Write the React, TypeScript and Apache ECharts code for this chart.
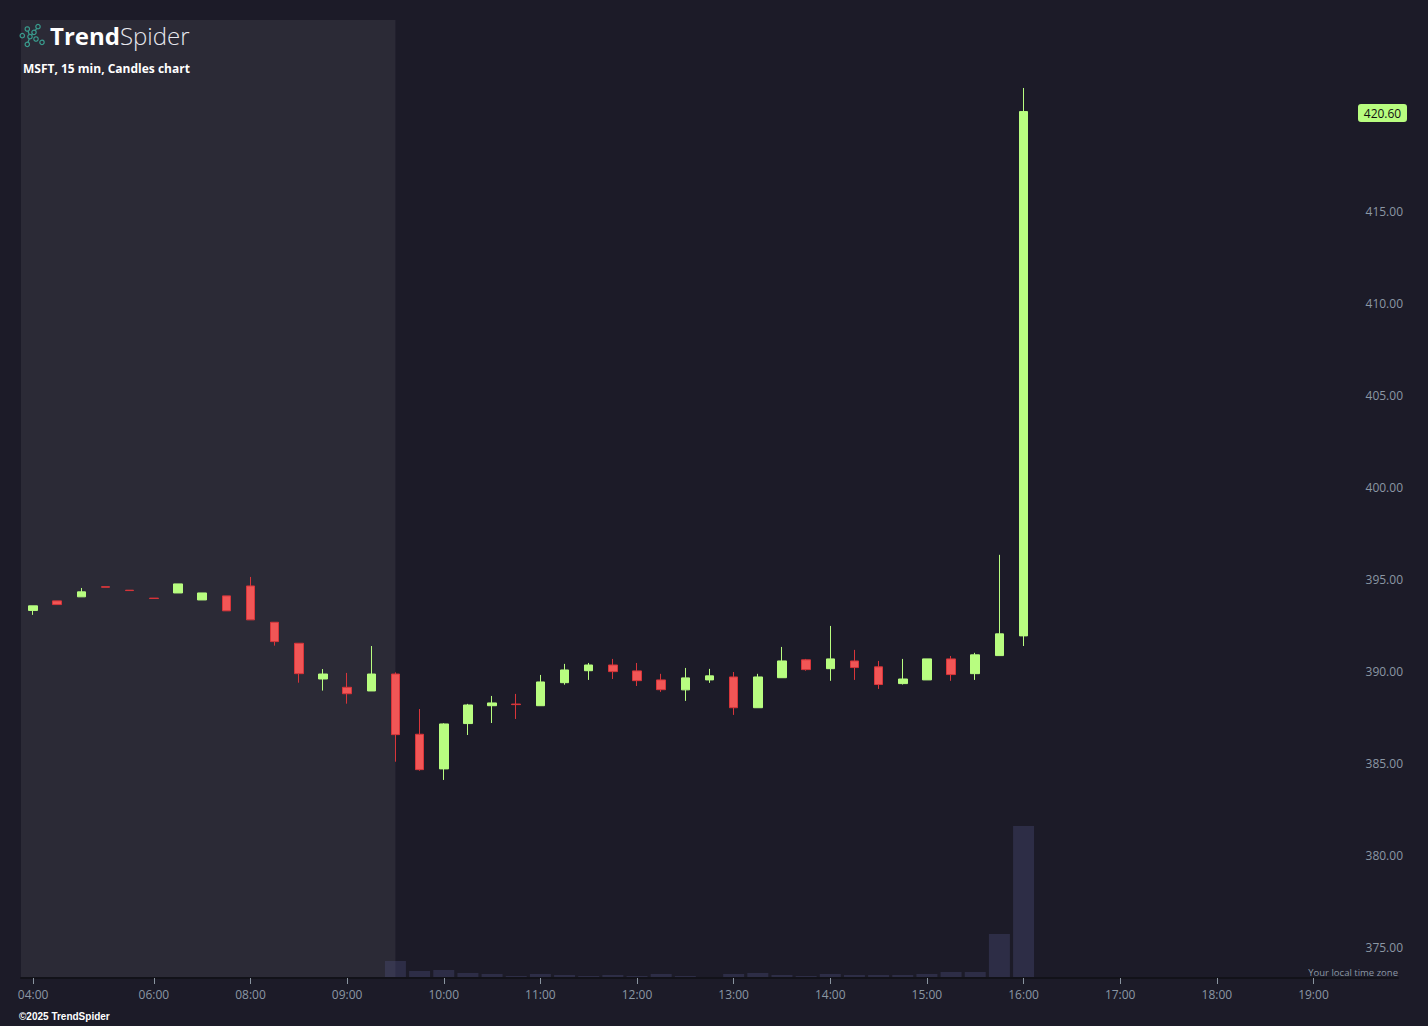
import React, { useEffect, useRef } from "react";
import * as echarts from "echarts";

const times = [
  "04:00", "04:30", "05:00", "05:15", "05:45", "06:00", "06:45", "07:15", "07:45",
  "08:00", "08:15", "08:30", "08:45", "09:00", "09:15", "09:30", "09:45",
  "10:00", "10:15", "10:30", "10:45", "11:00", "11:15", "11:30", "11:45",
  "12:00", "12:15", "12:30", "12:45", "13:00", "13:15", "13:30", "13:45",
  "14:00", "14:15", "14:30", "14:45", "15:00", "15:15", "15:30", "15:45",
  "16:00", "16:15", "16:30", "16:45", "17:00", "17:15", "17:30", "17:45",
  "18:00", "18:15", "18:30", "18:45", "19:00", "19:15", "19:30", "19:45",
];
const shownTimes = ["04:00", "06:00", "08:00", "09:00", "10:00", "11:00", "12:00", "13:00", "14:00", "15:00", "16:00", "17:00", "18:00", "19:00"];

const opens = [393.32, 393.84, 394.06, 394.61, 394.42, 393.99, 394.27, 393.89, 394.11, 394.65, 392.68, 391.54, 389.6, 389.15, 388.95, 389.87, 386.6, 384.72, 387.18, 388.15, 388.24, 388.15, 389.4, 390.05, 390.36, 390.04, 389.55, 389.01, 389.55, 389.71, 388.04, 389.67, 390.64, 390.16, 390.58, 390.26, 389.35, 389.55, 390.69, 389.89, 390.87, 391.94];
const closes = [393.57, 393.64, 394.33, 394.58, 394.4, 393.97, 394.76, 394.27, 393.3, 392.81, 391.63, 389.89, 389.87, 388.8, 389.87, 386.58, 384.68, 387.16, 388.19, 388.3, 388.21, 389.44, 390.09, 390.36, 390.0, 389.51, 389.02, 389.66, 389.77, 388.04, 389.71, 390.58, 390.11, 390.69, 390.22, 389.3, 389.6, 390.69, 389.84, 390.91, 392.05, 420.4];
const lows = [393.08, 393.64, 394.06, 394.58, 394.4, 393.97, 394.27, 393.89, 393.3, 392.81, 391.41, 389.4, 388.97, 388.26, 388.95, 385.11, 384.62, 384.12, 386.56, 387.21, 387.43, 388.15, 389.29, 389.55, 389.6, 389.22, 388.9, 388.41, 389.39, 387.65, 388.04, 389.67, 390.05, 389.5, 389.55, 389.06, 389.3, 389.55, 389.5, 389.55, 390.87, 391.39];
const highs = [393.57, 393.84, 394.54, 394.61, 394.42, 393.99, 394.76, 394.27, 394.11, 395.14, 392.68, 391.54, 390.14, 389.93, 391.39, 389.96, 387.97, 387.2, 388.25, 388.68, 388.79, 389.82, 390.42, 390.47, 390.69, 390.47, 389.88, 390.2, 390.15, 389.98, 389.88, 391.34, 390.69, 392.48, 391.18, 390.58, 390.69, 390.69, 390.85, 391.02, 396.34, 421.68];
const volumes = [0, 0, 0, 0, 0, 0, 0, 0, 0, 0, 0, 0, 0, 0, 0, 850, 350, 400, 250, 200, 100, 200, 150, 100, 150, 100, 200, 100, 50, 200, 250, 150, 100, 200, 150, 150, 150, 200, 300, 300, 2200, 7600];
const priceTicks = [375, 380, 385, 390, 395, 400, 405, 410, 415];
const lastPriceText = "420.60";
const premarketEnd = "09:30";

const Y_MIN = 373.37;
const Y_MAX = 425.37;

const BG = "#1c1b28";
const SHADE = "#2b2a36";
const GREEN = "#b8fd80";
const RED = "#f15656";
const RED_BORDER = "#d8353a";
const AXIS_TXT = "#8b97a4";

export default function App() {
  const ref = useRef<HTMLDivElement>(null);
  useEffect(() => {
    if (!ref.current) return;
    const chart = echarts.init(ref.current, null, { renderer: "svg" });
    const candleData = opens.map((o, i) => [o, closes[i], lows[i], highs[i]]);
    const labelFmt = (v: string) => (shownTimes.includes(v) ? v : "");
    const showIdx = (i: number, v: string) => shownTimes.includes(v);
    chart.setOption({
      animation: false,
      backgroundColor: BG,
      grid: [
        { left: 21, right: 30, top: 20, bottom: 48 },
        { left: 21, right: 30, top: 678, bottom: 48 },
      ],
      xAxis: [
        {
          type: "category",
          gridIndex: 0,
          data: times,
          boundaryGap: true,
          axisLine: { show: true, lineStyle: { color: "#121219", width: 2 } },
          axisTick: { show: true, alignWithLabel: true, interval: showIdx, length: 6, lineStyle: { color: "#8a94a0" } },
          axisLabel: { interval: 0, formatter: labelFmt, color: AXIS_TXT, fontSize: 12, margin: 10, fontFamily: "Open Sans" },
          splitLine: { show: false },
          z: 5,
        },
        {
          type: "category",
          gridIndex: 1,
          data: times,
          boundaryGap: true,
          show: false,
        },
      ],
      yAxis: [
        {
          type: "value",
          gridIndex: 0,
          min: Y_MIN,
          max: Y_MAX,
          position: "right",
          axisLine: { show: false },
          axisTick: { show: false },
          splitLine: { show: false },
          axisLabel: {
            inside: true,
            margin: -5,
            customValues: priceTicks,
            formatter: (v: number) => v.toFixed(2),
            color: AXIS_TXT,
            fontSize: 12,
            fontFamily: "Open Sans",
          },
        },
        { type: "value", gridIndex: 1, min: 0, max: 15000, show: false, splitLine: { show: false } },
      ],
      series: [
        {
          type: "bar",
          xAxisIndex: 1,
          yAxisIndex: 1,
          data: volumes,
          barWidth: 21,
          itemStyle: { color: "rgba(80,85,135,0.32)" },
          z: 2,
        },
        {
          type: "candlestick",
          xAxisIndex: 0,
          yAxisIndex: 0,
          data: candleData,
          barWidth: 9,
          itemStyle: {
            color: GREEN,
            color0: RED,
            borderColor: GREEN,
            borderColor0: RED_BORDER,
            borderWidth: 1,
          },
          z: 3,
        },
      ],
    });

    const px = (i: number) => chart.convertToPixel({ xAxisIndex: 0 }, times[i]) as number;
    const py = (v: number) => chart.convertToPixel({ yAxisIndex: 0 }, v) as number;
    const step = px(1) - px(0);
    const sx0 = px(0) - step / 2;
    const sx1 = chart.convertToPixel({ xAxisIndex: 0 }, premarketEnd) as number;
    const sy0 = py(Y_MAX);
    const sy1 = py(Y_MIN);
    const lastY = py(closes[closes.length - 1]) + 1.5;

    const teal = "#3a9d8f";
    const nodes = [[27.3, 29], [38, 26.7], [34, 32.3], [22.3, 35.7], [30, 36.7], [36, 39], [27.3, 44.3], [42, 42.3]];
    const links = [[4, 0], [4, 6], [4, 2], [2, 1]];

    chart.setOption({
      graphic: [
        {
          type: "rect",
          z: 0,
          silent: true,
          shape: { x: sx0, y: sy0, width: sx1 - sx0, height: sy1 - sy0 },
          style: { fill: SHADE },
        },
        ...links.map((l) => ({
          type: "line",
          z: 10,
          shape: { x1: nodes[l[0]][0], y1: nodes[l[0]][1], x2: nodes[l[1]][0], y2: nodes[l[1]][1] },
          style: { stroke: teal, lineWidth: 1.2 },
        })),
        ...nodes.map((n) => ({
          type: "circle",
          z: 11,
          shape: { cx: n[0], cy: n[1], r: 2.2 },
          style: { fill: SHADE, stroke: teal, lineWidth: 1.2 },
        })),
        {
          type: "text",
          z: 10,
          x: 50,
          y: 35,
          style: {
            text: "{a|Trend}{b|Spider}",
            verticalAlign: "middle",
            rich: {
              a: { fontSize: 24, fontWeight: "bold", fill: "#ffffff", fontFamily: "Open Sans" },
              b: { fontSize: 24, fontWeight: 300, fill: "#e8e8ee", fontFamily: "Open Sans" },
            },
          },
        },
        {
          type: "text",
          z: 10,
          x: 23,
          y: 68,
          style: {
            text: "MSFT, 15 min, Candles chart",
            fill: "#ffffff",
            fontSize: 12,
            fontWeight: "bold",
            fontFamily: "Open Sans",
            verticalAlign: "middle",
          },
        },
        {
          type: "text",
          z: 10,
          x: 19,
          y: 1016,
          style: {
            text: "©2025 TrendSpider",
            fill: "#ffffff",
            fontSize: 10,
            fontWeight: "bold",
            fontFamily: "Liberation Sans",
            verticalAlign: "middle",
          },
        },
        {
          type: "text",
          z: 10,
          x: 1398,
          y: 972,
          style: {
            text: "Your local time zone",
            fill: AXIS_TXT,
            fontSize: 9.5,
            fontFamily: "Open Sans",
            align: "right",
            verticalAlign: "middle",
          },
        },
        {
          type: "rect",
          z: 10,
          shape: { x: 1358, y: lastY - 9, width: 49, height: 18, r: 3 },
          style: { fill: GREEN },
        },
        {
          type: "text",
          z: 11,
          x: 1382.5,
          y: lastY,
          style: {
            text: lastPriceText,
            fill: "#111111",
            fontSize: 12,
            fontFamily: "Open Sans",
            align: "center",
            verticalAlign: "middle",
          },
        },
      ],
    });
    return () => chart.dispose();
  }, []);
  return <div ref={ref} style={{ position: "fixed", left: 0, top: 0, width: 1428, height: 1026 }} />;
}
